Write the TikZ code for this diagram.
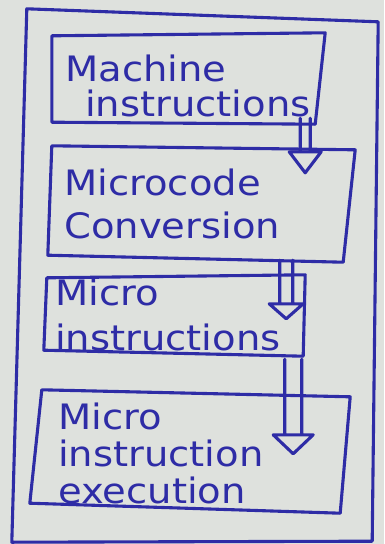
\documentclass[tikz,border=0pt]{standalone}
\usepackage{fontspec}
\setmainfont{DejaVu Sans}[FakeStretch=1.1]
\usetikzlibrary{calc}
\definecolor{ink}{RGB}{46,44,166}
\definecolor{paper}{RGB}{222,225,221}

% hollow double-shafted arrow: start, tip, half shaft width, half head width, head length
\newcommand\hollowarrow[5]{%
  \draw[pen] let \p1=(#1), \p2=(#2) in
    (\x1-#3,\y1) -- (\x1-#3,\y2+#5)
    (\x1+#3,\y1) -- (\x1+#3,\y2+#5)
    (\x1-#4,\y2+#5) -- (\x1+#4,\y2+#5) -- (\x1,\y2) -- cycle;}

% hand-drawn outline of a node: corner shifts nw, ne, se, sw
\newcommand\sketchbox[5]{%
  \draw[pen] ([shift={#2}]#1.north west) -- ([shift={#3}]#1.north east)
    -- ([shift={#4}]#1.south east) -- ([shift={#5}]#1.south west) -- cycle;}

\begin{document}
\begin{tikzpicture}[x=1pt,y=-1pt,
  pen/.style={draw=ink, line width=3.1pt, line join=round, line cap=round},
  stagebox/.style={rectangle, inner sep=0pt},
  stagetext/.style={text=ink, align=left, anchor=base west, inner sep=0pt,
    font=\fontsize{35}{40}\selectfont}]

% paper
\fill[paper] (0,0) rectangle (384,544);
\useasboundingbox (0,0) rectangle (384,544);

% outer frame and stages
\node[stagebox, minimum width=351pt, minimum height=530pt] (frame) at (200.5,276) {};
\node[stagebox, minimum width=268pt, minimum height=88pt]  (s1) at (186,79) {};
\node[stagebox, minimum width=300pt, minimum height=113pt] (s2) at (200,203.5) {};
\node[stagebox, minimum width=258pt, minimum height=76pt]  (s3) at (175,315) {};
\node[stagebox, minimum width=309pt, minimum height=117pt] (s4) at (190.5,451.5) {};

\sketchbox{frame}{(2,-2)}{(2,11)}{(-4,0)}{(-13,1)}
\sketchbox{s1}{(0,1)}{(5,-2)}{(-5,1)}{(0,-1)}
\sketchbox{s2}{(2,-1)}{(5,3)}{(-7,2)}{(-2,-5)}
\sketchbox{s3}{(1,1)}{(1,-2)}{(-1,3)}{(-2,-3)}
\sketchbox{s4}{(6,-3)}{(5,4)}{(-5,3)}{(-6,-7)}

% labels (anchored at the baseline of the last line)
\node[stagetext] (t1) at (65,116) {Machine\\[-5pt]\hspace*{20pt}instructions};
\node[stagetext] (t2) at (64,238) {Microcode\\[3pt]Conversion};
\node[stagetext] (t3) at (55,350) {Micro\\[5pt]instructions};
\node[stagetext] (t4) at (58,503) {Micro\\[-3pt]instruction\\[-3pt]execution};

% flow between stages
\path (s1.south east) ++(-15,-5) coordinate (a1s);
\path (s2.north east) ++(-47,26) coordinate (a1e);
\hollowarrow{a1s}{a1e}{5pt}{16pt}{21pt}

\path (s2.south east) ++(-64,0) coordinate (a2s);
\path (s3.north east) ++(-21,42) coordinate (a2e);
\hollowarrow{a2s}{a2e}{6.5pt}{17pt}{15pt}

\path (s3.south east) ++(-11,6) coordinate (a3s);
\path (s4.north east) ++(-52,61) coordinate (a3e);
\hollowarrow{a3s}{a3e}{8.5pt}{20pt}{19pt}

\end{tikzpicture}
\end{document}
